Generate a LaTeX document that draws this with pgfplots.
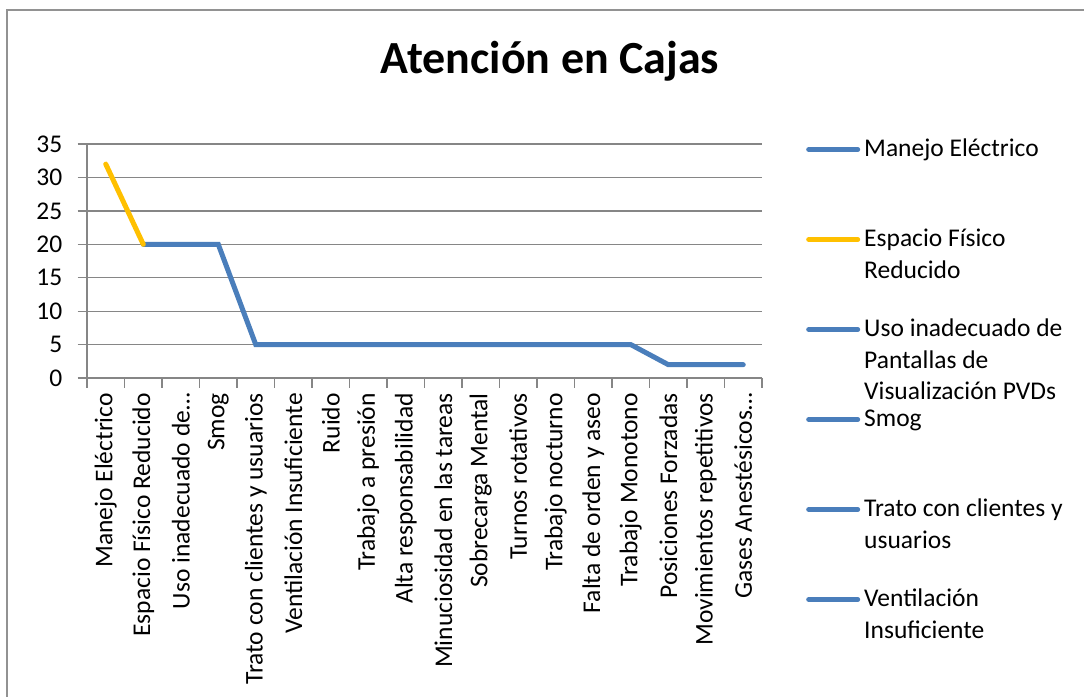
\documentclass[border=0pt]{standalone}
\usepackage{fontspec}
\setmainfont{Carlito}
\usepackage{pgfplots}
\pgfplotsset{compat=1.18}

\definecolor{serieblue}{RGB}{74,126,187}
\definecolor{serieyellow}{RGB}{255,192,0}
\definecolor{gridgray}{RGB}{134,134,134}
\newcommand\chartfont{\fontsize{25.5}{31.5}\selectfont}
\newcommand\lines[1]{\begin{tabular}[t]{@{}l@{}}#1\end{tabular}}

\begin{document}
\begin{tikzpicture}[x=1pt,y=1pt]
  \useasboundingbox (0,0) rectangle (1084,-696);
  % outer chart frame (cut off at right and bottom)
  \draw[gridgray!90, line width=2pt] (7,-700) -- (7,-10) -- (1090,-10);
  \node[anchor=base, font=\fontsize{46}{55}\selectfont\bfseries] at (550,-73) {Atención en Cajas};

  \begin{axis}[
    at={(87pt,-378pt)}, anchor=south west,
    scale only axis, width=675pt, height=234pt,
    clip=false,
    xmin=-0.5, xmax=17.5,
    ymin=0, ymax=35,
    ytick={0,5,...,35},
    xtick={-0.5,0.5,...,17.5},
    xticklabels={},
    extra x ticks={0,...,17},
    extra x tick labels={Manejo Eléctrico,Espacio Físico Reducido,Uso inadecuado de…,Smog,
      Trato con clientes y usuarios,Ventilación Insuficiente,Ruido,Trabajo a presión,
      Alta responsabilidad,Minuciosidad en las tareas,Sobrecarga Mental,Turnos rotativos,
      Trabajo nocturno,Falta de orden y aseo,Trabajo Monotono,Posiciones Forzadas,
      Movimientos repetitivos,Gases Anestésicos…},
    extra x tick style={major tick length=0pt,
      xticklabel style={yshift=-15pt, rotate=90, anchor=east, inner sep=0pt, font=\chartfont}},
    axis lines*=left,
    axis line style={gridgray, line width=1.3pt},
    tick style={gridgray, line width=1.3pt},
    tick align=outside,
    major tick length=9.5pt,
    ymajorgrids=true,
    major grid style={gridgray, line width=1.3pt},
    yticklabel style={font=\chartfont, inner sep=0pt, anchor=east, xshift=-15pt},
    /pgf/number format/assume math mode=true,
    legend style={draw=none, fill=none, inner sep=0pt,
      at={(1.0652,1.0227)}, anchor=north west,
      column sep=4pt, row sep=0pt, font=\chartfont,
      nodes={inner sep=0pt, text height=18pt, text depth=72pt},
      cells={anchor=base west}},
    legend image code/.code={\draw[#1, line cap=round] (0pt,7.4pt) -- (49pt,7.4pt);},
  ]
    \addplot[serieblue, line width=5pt, line cap=round] coordinates {
      (1,20) (2,20) (3,20) (4,5) (5,5) (6,5) (7,5) (8,5) (9,5) (10,5)
      (11,5) (12,5) (13,5) (14,5) (15,2) (16,2) (17,2)};
    \addlegendentry{Manejo Eléctrico}
    \addplot[serieyellow, line width=5pt, line cap=round] coordinates {
      (0,32) (1,20)};
    \addlegendentry{\lines{Espacio Físico\\Reducido}}
    \addlegendimage{serieblue, line width=5pt}
    \addlegendentry{\lines{Uso inadecuado de\\Pantallas de\\Visualización PVDs}}
    \addlegendimage{serieblue, line width=5pt}
    \addlegendentry{Smog}
    \addlegendimage{serieblue, line width=5pt}
    \addlegendentry{\lines{Trato con clientes y\\usuarios}}
    \addlegendimage{serieblue, line width=5pt}
    \addlegendentry{\lines{Ventilación\\Insuficiente}}
  \end{axis}
\end{tikzpicture}
\end{document}
